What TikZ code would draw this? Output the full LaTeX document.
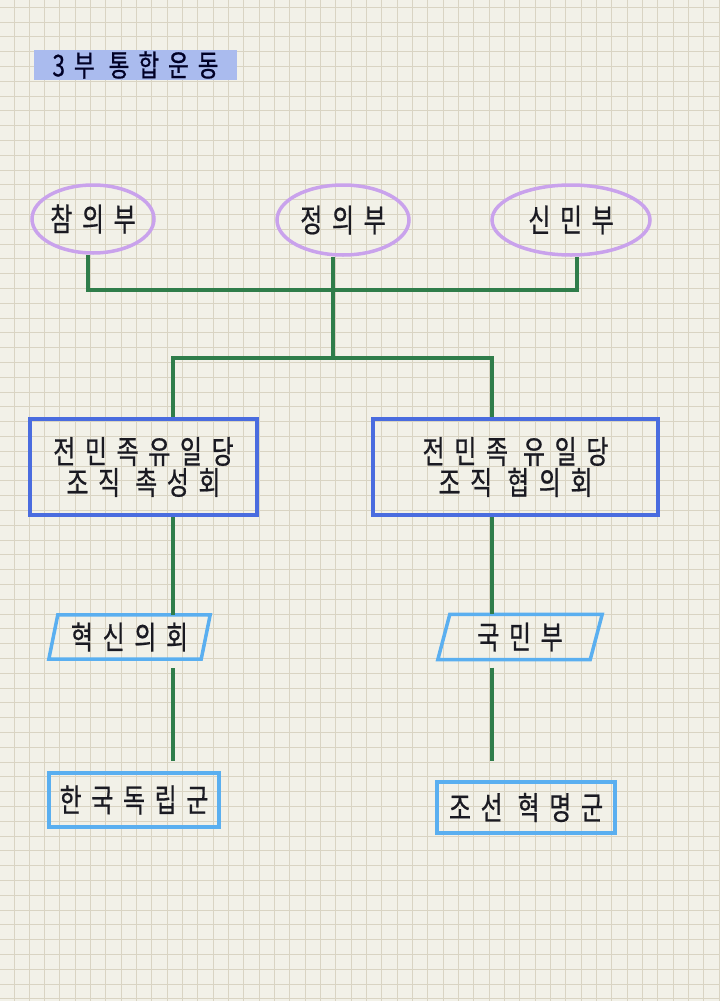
\documentclass[tikz,border=0pt]{standalone}
\usepackage{fontspec}
\setmainfont{Noto Sans CJK KR}[LetterSpace=30,FakeStretch=0.75,FakeBold=0.6]
\usetikzlibrary{shapes.geometric}
\definecolor{paper}{HTML}{F2F1E8}
\definecolor{gridtan}{HTML}{D9D4C3}
\definecolor{titleblue}{HTML}{AABBEE}
\definecolor{lavender}{HTML}{C9A2EC}
\definecolor{branch}{HTML}{2F7D4A}
\definecolor{royal}{HTML}{4A6CDF}
\definecolor{sky}{HTML}{5AAFF0}
\definecolor{ink}{HTML}{1A1A22}
\tikzset{
  org/.style={ellipse,draw=lavender,line width=3.5pt,inner sep=0pt},
  bigbox/.style={draw=royal,line width=4pt,align=center},
  smallbox/.style={draw=sky,line width=3.5pt,inner sep=0pt},
  para/.style={draw=sky,line width=3.5pt},
  link/.style={draw=branch,line width=3.5pt}
}
\begin{document}
\begin{tikzpicture}[x=1pt,y=-1pt,font=\fontsize{32}{31}\selectfont,text=ink]
\useasboundingbox (0,0) rectangle (720,1001);
\fill[paper] (0,0) rectangle (720,1001);
\foreach \i in {0,...,46} \draw[gridtan,line width=1pt] (14+\i*15.33,0)--(14+\i*15.33,1001);
\foreach \j in {0,...,67} \draw[gridtan,line width=1pt] (0,7.3+\j*14.8)--(720,7.3+\j*14.8);

\node (title) at (135.5,65)[fill=titleblue,minimum width=203,minimum height=30,inner sep=0pt,text=black!85!blue,font=\fontsize{30}{31}\selectfont]{3부 통합운동};

\node (cham) at (93,219)[org,minimum width=122,minimum height=68]{참의부};
\node (jeong) at (343,220)[org,minimum width=132,minimum height=70]{정의부};
\node (sinmin) at (571,220)[org,minimum width=158,minimum height=70]{신민부};

\node (chokseong) at (143.5,467)[bigbox,minimum width=227,minimum height=96]{전민족유일당\\조직 촉성회};
\node (hyeopui) at (515.5,467)[bigbox,minimum width=285,minimum height=96]{전민족 유일당\\조직 협의회};

\node (hyeoksin) at (129.5,637)[minimum width=152,minimum height=44,inner sep=0pt]{혁신의회};
\node (gukmin) at (520,637)[minimum width=152,minimum height=45,inner sep=0pt]{국민부};
\draw[para] ([xshift=4.5]hyeoksin.north west)--([xshift=4.5]hyeoksin.north east)--([xshift=-4.5]hyeoksin.south east)--([xshift=-4.5]hyeoksin.south west)--cycle;
\draw[para] ([xshift=6]gukmin.north west)--([xshift=6]gukmin.north east)--([xshift=-6]gukmin.south east)--([xshift=-6]gukmin.south west)--cycle;

\node (dongnip) at (134,800)[smallbox,minimum width=170,minimum height=54]{한국독립군};
\node (joseon) at (526,807.5)[smallbox,minimum width=178,minimum height=51]{조선 혁명군};

\coordinate (upper) at (333,290);
\coordinate (lower) at (333,358);
\coordinate (lcol) at (173,0);
\coordinate (rcol) at (492,0);

\draw[link] ([xshift=-5]cham.south) |- (upper) -| ([xshift=6]sinmin.south);
\draw[link] ([xshift=-10]jeong.south) -- (lower);
\draw[link] (chokseong.north -| lcol) |- (lower) -| (hyeopui.north -| rcol);
\draw[link] (chokseong.south -| lcol) -- (hyeoksin.north -| lcol);
\draw[link] (hyeopui.south -| rcol) -- (gukmin.north -| rcol);
\draw[link,shorten <=9pt,shorten >=10pt] (hyeoksin.south -| lcol) -- (dongnip.north -| lcol);
\draw[link,shorten <=8pt,shorten >=19pt] (gukmin.south -| rcol) -- (joseon.north -| rcol);

\end{tikzpicture}
\end{document}
